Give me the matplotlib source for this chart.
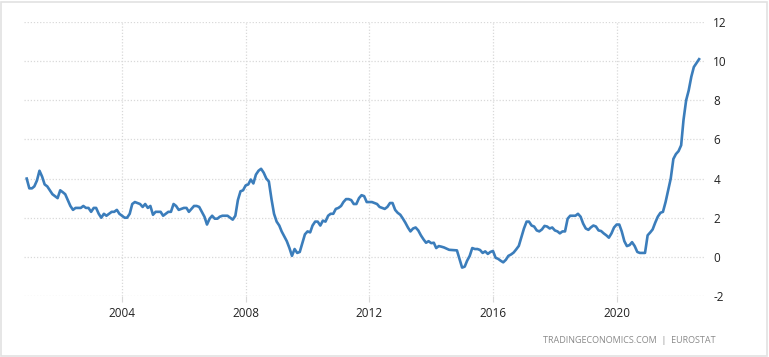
import numpy as np
import pandas as pd
import matplotlib
matplotlib.use("Agg")
import matplotlib.pyplot as plt
import matplotlib.dates as mdates
from matplotlib.patches import Rectangle

# monthly inflation rate (%), Dec 2000 .. Sep 2022
start_value = [4.0]
y2001 = [3.5, 3.5, 3.6, 3.9, 4.4, 4.1, 3.7, 3.6, 3.4, 3.2, 3.1, 3.0]
y2002 = [3.4, 3.3, 3.2, 2.9, 2.6, 2.4, 2.5, 2.5, 2.5, 2.6, 2.5, 2.5]
y2003 = [2.3, 2.5, 2.5, 2.2, 2.0, 2.2, 2.1, 2.2, 2.3, 2.3, 2.4, 2.2]
y2004 = [2.1, 2.0, 2.0, 2.2, 2.7, 2.8, 2.75, 2.7, 2.55, 2.7, 2.5, 2.6]
y2005 = [2.15, 2.3, 2.3, 2.3, 2.1, 2.2, 2.3, 2.3, 2.7, 2.6, 2.4, 2.45]
y2006 = [2.5, 2.5, 2.3, 2.45, 2.6, 2.6, 2.55, 2.3, 2.05, 1.65, 1.95, 2.1]
y2007 = [1.95, 1.95, 2.05, 2.1, 2.1, 2.1, 2.0, 1.9, 2.1, 2.9, 3.35, 3.4]
y2008 = [3.65, 3.7, 3.95, 3.75, 4.2, 4.4, 4.5, 4.3, 4.0, 3.85, 2.95, 2.2]
y2009 = [1.8, 1.6, 1.3, 1.05, 0.8, 0.45, 0.05, 0.4, 0.2, 0.25, 0.7, 1.15]
y2010 = [1.3, 1.25, 1.6, 1.8, 1.8, 1.6, 1.85, 1.8, 2.1, 2.2, 2.2, 2.45]
y2011 = [2.5, 2.6, 2.8, 2.95, 2.95, 2.9, 2.7, 2.7, 3.0, 3.15, 3.1, 2.8]
y2012 = [2.8, 2.8, 2.75, 2.7, 2.55, 2.5, 2.45, 2.55, 2.75, 2.75, 2.4, 2.25]
y2013 = [2.15, 1.95, 1.75, 1.5, 1.3, 1.45, 1.5, 1.35, 1.1, 0.9, 0.72, 0.8]
y2014 = [0.7, 0.72, 0.45, 0.55, 0.52, 0.48, 0.42, 0.36, 0.35, 0.34, 0.33, -0.1]
y2015 = [-0.55, -0.5, -0.2, 0.05, 0.45, 0.4, 0.4, 0.35, 0.2, 0.28, 0.15, 0.25]
y2016 = [0.3, -0.05, -0.1, -0.2, -0.28, -0.15, 0.05, 0.12, 0.22, 0.38, 0.56, 1.0]
y2017 = [1.45, 1.8, 1.8, 1.6, 1.55, 1.35, 1.3, 1.4, 1.58, 1.55, 1.45, 1.5]
y2018 = [1.35, 1.3, 1.2, 1.3, 1.3, 1.95, 2.1, 2.1, 2.1, 2.2, 2.05, 1.7]
y2019 = [1.45, 1.38, 1.5, 1.6, 1.55, 1.35, 1.32, 1.2, 1.1, 0.98, 1.2, 1.5]
y2020 = [1.65, 1.65, 1.3, 0.8, 0.55, 0.6, 0.75, 0.55, 0.25, 0.2, 0.2, 0.2]
y2021 = [1.1, 1.25, 1.4, 1.75, 2.05, 2.25, 2.3, 2.8, 3.4, 4.0, 5.0, 5.25]
y2022 = [5.4, 5.7, 7.0, 8.0, 8.5, 9.2, 9.7, 9.9, 10.1]

values = (start_value + y2001 + y2002 + y2003 + y2004 + y2005 + y2006 + y2007
          + y2008 + y2009 + y2010 + y2011 + y2012 + y2013 + y2014 + y2015
          + y2016 + y2017 + y2018 + y2019 + y2020 + y2021 + y2022)
dates = pd.date_range("2000-12-01", periods=len(values), freq="MS")

x_ticks = ["2004", "2008", "2012", "2016", "2020"]
y_ticks = [-2, 0, 2, 4, 6, 8, 10, 12]
source = "TRADINGECONOMICS.COM  |  EUROSTAT"

plt.rcParams["font.family"] = ["Open Sans", "DejaVu Sans"]
plt.rcParams["axes.unicode_minus"] = False

fig = plt.figure(figsize=(7.69, 3.57), dpi=100)
ax = fig.add_axes([0.0312, 0.1709, 0.8856, 0.7675])

ax.plot(dates, values, color="#3b7dbb", lw=1.9, solid_joinstyle="round")

ax.set_ylim(-2, 12)
ax.set_yticks(y_ticks)
ax.set_xlim(pd.Timestamp("2000-10-30"), pd.Timestamp("2022-11-10"))
ax.set_xticks([pd.Timestamp(y + "-01-01") for y in x_ticks])
ax.xaxis.set_major_formatter(mdates.DateFormatter("%Y"))

ax.grid(True, color="#d9d9d9", linestyle=(0, (1, 1.5)), linewidth=0.9)
for s in ax.spines.values():
    s.set_visible(False)

ax.yaxis.tick_right()
ax.tick_params(axis="y", length=0, pad=6, labelsize=8.5, labelcolor="#222222")
ax.tick_params(axis="x", length=4, color="#d9d9d9", pad=4, labelsize=8.5,
               labelcolor="#222222")

fig.text(0.93, 0.045, source, ha="right", va="center", fontsize=6.5,
         color="#8a8a8a")

fig.patches.append(Rectangle((0.001, 0.003), 0.996, 0.99, transform=fig.transFigure,
                             fill=False, edgecolor="#e2e2e2", lw=1.2))

fig.savefig("out.png", dpi=100)
